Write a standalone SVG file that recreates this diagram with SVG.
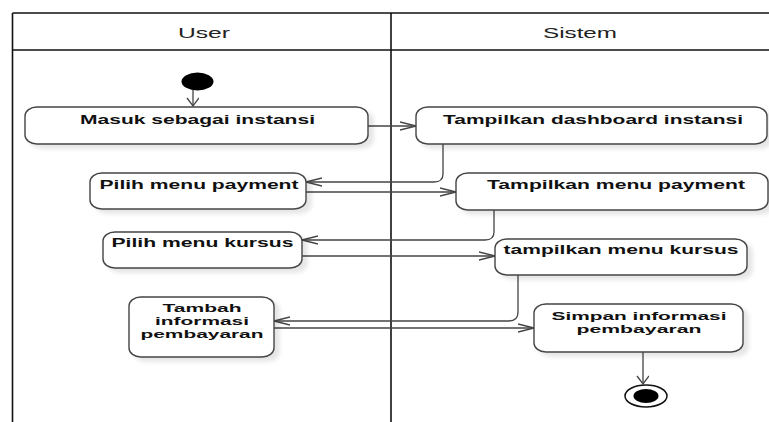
<svg xmlns="http://www.w3.org/2000/svg" width="769" height="422" viewBox="0 0 769 422">
  <style>
    .frame { fill: none; stroke: #111; stroke-width: 1.6; }
    .act { fill: #fff; stroke: #444; stroke-width: 1.4; filter: url(#shadow); }
    .lbl { font-family: "Liberation Sans", Arial, sans-serif; font-weight: bold; font-size: 13px; fill: #111; text-anchor: middle; }
    .lbl2 { font-family: "Liberation Sans", Arial, sans-serif; font-weight: bold; font-size: 11.5px; fill: #111; text-anchor: middle; }
    .lane { font-family: "Liberation Sans", Arial, sans-serif; font-size: 14px; fill: #222; text-anchor: middle; }
    .flow { fill: none; stroke: #444; stroke-width: 1.3; }
  </style>
  <defs>
    <filter id="shadow" x="-10%" y="-20%" width="130%" height="160%">
      <feGaussianBlur in="SourceAlpha" stdDeviation="2"/>
      <feOffset dx="5" dy="4" result="blur"/>
      <feFlood flood-color="#000" flood-opacity="0.10"/>
      <feComposite in2="blur" operator="in"/>
      <feMerge>
        <feMergeNode/>
        <feMergeNode in="SourceGraphic"/>
      </feMerge>
    </filter>
    <!-- open arrowheads: horizontal flows are long and flat, vertical ones short and wide -->
    <marker id="arrow-h" markerUnits="userSpaceOnUse" markerWidth="20" markerHeight="12" refX="16" refY="5" orient="auto">
      <path d="M0,1 L16,5 L0,9" fill="none" stroke="#444" stroke-width="1.3"/>
    </marker>
    <marker id="arrow-v" markerUnits="userSpaceOnUse" markerWidth="12" markerHeight="16" refX="9" refY="6" orient="auto">
      <path d="M1,0 L9,6 L1,12" fill="none" stroke="#444" stroke-width="1.3"/>
    </marker>
  </defs>

  <rect width="769" height="422" fill="#fff"/>

  <!-- swimlane frame -->
  <g id="lanes">
    <line class="frame" x1="12.5" y1="13" x2="769" y2="13"/>
    <line class="frame" x1="12.5" y1="50" x2="769" y2="50"/>
    <line class="frame" x1="12.5" y1="13" x2="12.5" y2="422"/>
    <line class="frame" x1="391" y1="13" x2="391" y2="422"/>
    <text class="lane" x="204" y="38" textLength="52" lengthAdjust="spacingAndGlyphs">User</text>
    <text class="lane" x="580" y="38" textLength="74" lengthAdjust="spacingAndGlyphs">Sistem</text>
  </g>

  <!-- flows -->
  <g id="connectors">
    <line class="flow" x1="193" y1="90" x2="193" y2="106" marker-end="url(#arrow-v)"/>
    <line class="flow" x1="368" y1="126" x2="416" y2="126" marker-end="url(#arrow-h)"/>
    <path class="flow" d="M443,144 V174 Q443,182 434,182 H306" marker-end="url(#arrow-h)"/>
    <line class="flow" x1="306" y1="192" x2="456" y2="192" marker-end="url(#arrow-h)"/>
    <path class="flow" d="M494,210 V232 Q494,240 485,240 H302" marker-end="url(#arrow-h)"/>
    <line class="flow" x1="302" y1="256" x2="495" y2="256" marker-end="url(#arrow-h)"/>
    <path class="flow" d="M518,275 V312 Q518,321 509,321 H274" marker-end="url(#arrow-h)"/>
    <line class="flow" x1="274" y1="328" x2="534" y2="328" marker-end="url(#arrow-h)"/>
    <line class="flow" x1="643" y1="352" x2="643" y2="384" marker-end="url(#arrow-v)"/>
  </g>

  <g id="start">
    <ellipse cx="197.5" cy="81.5" rx="16" ry="9" fill="#000"/>
  </g>

  <g id="masuk-instansi">
    <rect class="act" x="25" y="107" width="343" height="37" rx="12" ry="9"/>
    <text class="lbl" x="197.5" y="124" textLength="235" lengthAdjust="spacingAndGlyphs">Masuk sebagai instansi</text>
  </g>

  <g id="tampilkan-dashboard">
    <rect class="act" x="416" y="107" width="351" height="37" rx="12" ry="9"/>
    <text class="lbl" x="593" y="124" textLength="300" lengthAdjust="spacingAndGlyphs">Tampilkan dashboard instansi</text>
  </g>

  <g id="pilih-payment">
    <rect class="act" x="90" y="173" width="216" height="36" rx="12" ry="9"/>
    <text class="lbl" x="199" y="189" textLength="199" lengthAdjust="spacingAndGlyphs">Pilih menu payment</text>
  </g>

  <g id="tampilkan-payment">
    <rect class="act" x="456" y="173" width="312" height="37" rx="12" ry="9"/>
    <text class="lbl" x="616" y="189" textLength="258" lengthAdjust="spacingAndGlyphs">Tampilkan menu payment</text>
  </g>

  <g id="pilih-kursus">
    <rect class="act" x="103" y="232" width="199" height="36" rx="12" ry="9"/>
    <text class="lbl" x="202.5" y="247" textLength="182" lengthAdjust="spacingAndGlyphs">Pilih menu kursus</text>
  </g>

  <g id="tampilkan-kursus">
    <rect class="act" x="495" y="239" width="252" height="36" rx="12" ry="9"/>
    <text class="lbl" x="621" y="254" textLength="235" lengthAdjust="spacingAndGlyphs">tampilkan menu kursus</text>
  </g>

  <g id="tambah-informasi">
    <rect class="act" x="129" y="297" width="145" height="60" rx="12" ry="9"/>
    <text class="lbl2" x="202" y="311.5" textLength="79" lengthAdjust="spacingAndGlyphs">Tambah</text>
    <text class="lbl2" x="202" y="324.5" textLength="94" lengthAdjust="spacingAndGlyphs">informasi</text>
    <text class="lbl2" x="202" y="337.5" textLength="123" lengthAdjust="spacingAndGlyphs">pembayaran</text>
  </g>

  <g id="simpan-informasi">
    <rect class="act" x="534" y="304" width="209" height="48" rx="12" ry="9"/>
    <text class="lbl2" x="639" y="319.5" textLength="175" lengthAdjust="spacingAndGlyphs">Simpan informasi</text>
    <text class="lbl2" x="639" y="332.5" textLength="125" lengthAdjust="spacingAndGlyphs">pembayaran</text>
  </g>

  <g id="end">
    <ellipse cx="646" cy="396" rx="21" ry="11" fill="#fff" stroke="#111" stroke-width="1.5"/>
    <ellipse cx="646" cy="396" rx="12.5" ry="7" fill="#000"/>
  </g>
</svg>
